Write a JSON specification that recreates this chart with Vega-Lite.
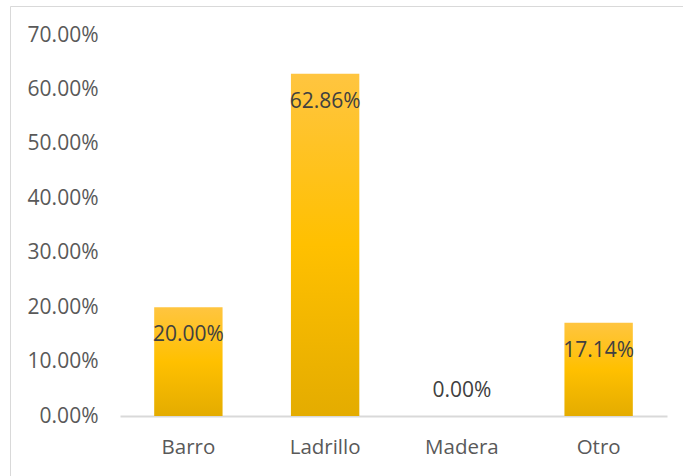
{
  "$schema": "https://vega.github.io/schema/vega-lite/v6.json",
  "width": 673,
  "height": 470,
  "autosize": "none",
  "padding": {"left": 10, "top": 6, "right": 0, "bottom": 0},
  "background": "white",
  "config": {
    "view": {"stroke": "#D9D9D9", "strokeWidth": 1},
    "font": "Open Sans"
  },
  "data": {
    "values": [
      {"material": "Barro", "pct": 0.2},
      {"material": "Ladrillo", "pct": 0.6286},
      {"material": "Madera", "pct": 0},
      {"material": "Otro", "pct": 0.1714}
    ]
  },
  "encoding": {
    "x": {
      "field": "material",
      "type": "nominal",
      "sort": null,
      "scale": {"range": [110, 657], "paddingInner": 0.5, "paddingOuter": 0.25},
      "axis": {
        "orient": "bottom",
        "offset": -60,
        "ticks": false,
        "domainColor": "#D9D9D9",
        "domainWidth": 2,
        "labelAngle": 0,
        "labelPadding": 21,
        "labelFontSize": 20.5,
        "labelColor": "#595959",
        "labelFont": "Open Sans",
        "title": null
      }
    },
    "y": {
      "field": "pct",
      "type": "quantitative",
      "scale": {"domain": [0, 0.7], "range": [410, 29], "nice": false, "zero": true},
      "axis": {
        "format": ".2%",
        "values": [0, 0.1, 0.2, 0.3, 0.4, 0.5, 0.6, 0.7],
        "ticks": false,
        "domain": false,
        "grid": false,
        "offset": -110,
        "labelPadding": 22,
        "labelFontSize": 21,
        "labelColor": "#595959",
        "labelFont": "Open Sans",
        "title": null
      }
    }
  },
  "layer": [
    {
      "mark": {
        "type": "bar",
        "color": {
          "x1": 0, "y1": 0, "x2": 0, "y2": 1,
          "gradient": "linear",
          "stops": [
            {"offset": 0, "color": "#FFC540"},
            {"offset": 0.5, "color": "#FFC000"},
            {"offset": 1, "color": "#E4AC00"}
          ]
        }
      }
    },
    {
      "transform": [{"filter": "datum.pct > 0"}],
      "mark": {"type": "text", "dy": 28, "baseline": "middle", "fontSize": 21, "color": "#404040", "font": "Open Sans"},
      "encoding": {"text": {"field": "pct", "type": "quantitative", "format": ".2%"}}
    },
    {
      "transform": [{"filter": "datum.pct == 0"}],
      "mark": {"type": "text", "dy": -25, "baseline": "middle", "fontSize": 21, "color": "#404040", "font": "Open Sans"},
      "encoding": {"text": {"field": "pct", "type": "quantitative", "format": ".2%"}}
    }
  ]
}
